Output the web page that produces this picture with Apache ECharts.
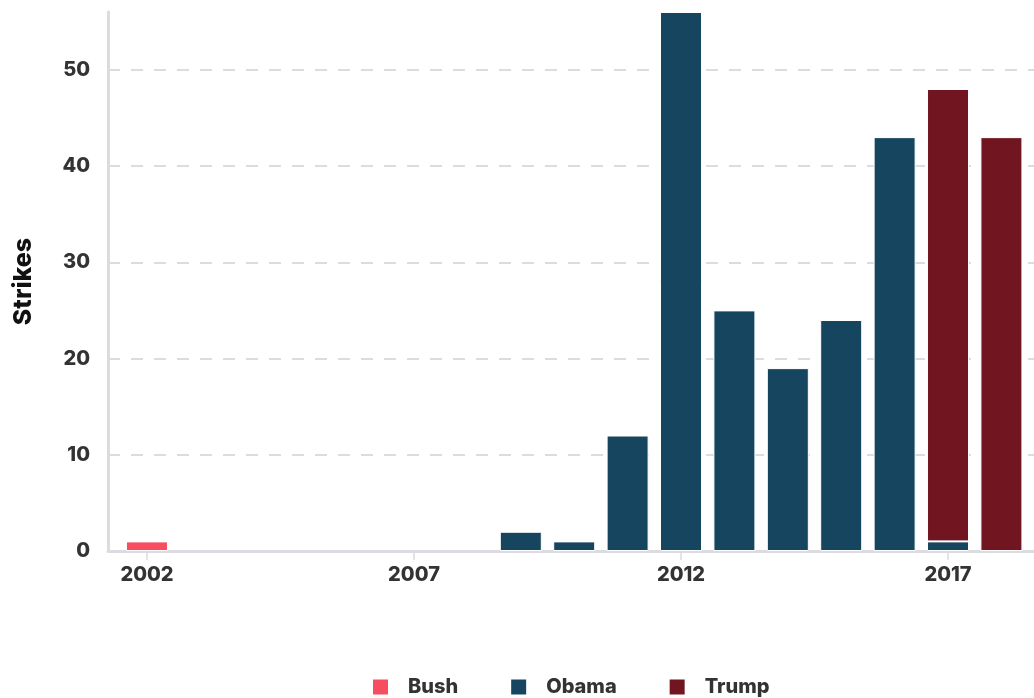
<!DOCTYPE html>
<html>
<head>
<meta charset="utf-8">
<script src="https://cdn.jsdelivr.net/npm/echarts@6/dist/echarts.min.js"></script>
<style>
html,body{margin:0;padding:0;background:#fff;}
#chart{width:1034px;height:698px;}
</style>
</head>
<body>
<div id="chart"></div>
<script>
const years = [2002,2003,2004,2005,2006,2007,2008,2009,2010,2011,2012,2013,2014,2015,2016,2017,2018];
const bush  = [1,0,0,0,0,0,0,0,0,0,0,0,0,0,0,0,0];
const obama = [0,0,0,0,0,0,0,2,1,12,56,25,19,24,43,1,0];
const trump = [0,0,0,0,0,0,0,0,0,0,0,0,0,0,0,47,43];
const xTickYears = [2002,2007,2012,2017];
const yTicks = [0,10,20,30,40,50];

const font = 'Inter, "DejaVu Sans", sans-serif';
// value first, year second, so stacking happens on the value dimension
function rows(arr){ return years.map((y,i)=> [arr[i] ? arr[i] : null, y]); }

const chart = echarts.init(document.getElementById('chart'));
const barStyle = c => ({color:c, borderColor:'#fff', borderWidth:1});
const mkSeries = (name, arr, color) => ({
  name, type:'bar', stack:'s', barWidth:42,
  dimensions:[{name:'v', type:'float'}, {name:'year', type:'float'}],
  encode:{x:'year', y:'v'},
  data:rows(arr), itemStyle:barStyle(color)
});
chart.setOption({
  animation:false,
  grid:{left:108, right:0, top:12, bottom:147, containLabel:false},
  legend:{
    bottom:-4, left:366, itemWidth:17, itemHeight:17, itemGap:51, icon:'rect',
    textStyle:{fontFamily:font, fontWeight:800, fontSize:20, color:'#333', padding:[0,0,0,14]},
    data:['Bush','Obama','Trump']
  },
  xAxis:{
    type:'value', min:2001.27, max:2018.61,
    splitLine:{show:false},
    axisLine:{show:true, lineStyle:{color:'#dcdce0', width:3}},
    axisTick:{show:true, customValues:xTickYears, length:9, lineStyle:{color:'#dcdce0', width:1.5}},
    axisLabel:{customValues:xTickYears, fontFamily:font, fontWeight:800, fontSize:20, color:'#333', margin:14,
      formatter:v=>String(v)}
  },
  yAxis:{
    type:'value', min:0, max:56, interval:10,
    name:'Strikes', nameLocation:'middle', nameGap:72, nameRotate:90,
    nameTextStyle:{fontFamily:font, fontWeight:800, fontSize:25, color:'#111'},
    axisLine:{show:true, lineStyle:{color:'#dcdce0', width:3}},
    axisTick:{show:false},
    axisLabel:{fontFamily:font, fontWeight:800, fontSize:20, color:'#333', margin:18,
      formatter:v=> yTicks.includes(v) ? String(v) : ''},
    splitLine:{show:true, showMaxLine:false, lineStyle:{color:'#dcdce0', width:2, type:[12,11]}}
  },
  series:[
    mkSeries('Bush', bush, '#f74d60'),
    mkSeries('Obama', obama, '#16455f'),
    mkSeries('Trump', trump, '#711621')
  ]
});
</script>
</body>
</html>
